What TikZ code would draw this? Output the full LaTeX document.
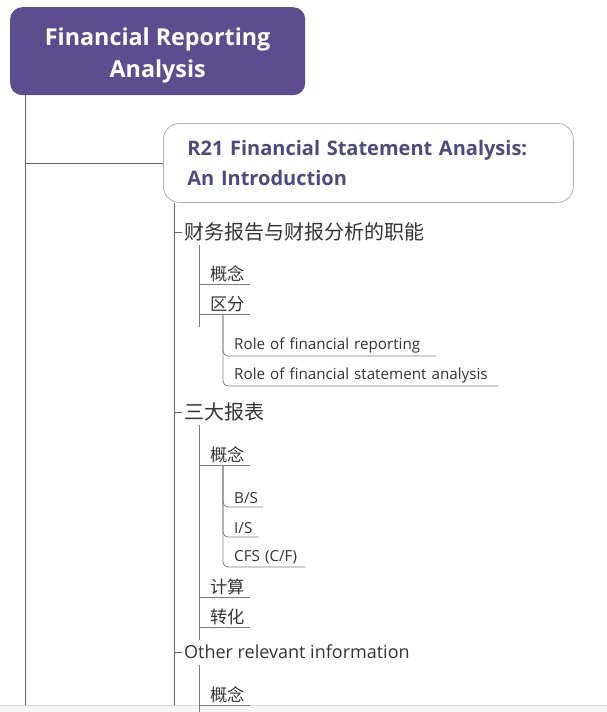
\documentclass[tikz,border=0pt]{standalone}
\usepackage{fontspec}
\setmainfont{Open Sans}
\newfontfamily\cjk{Noto Sans CJK SC}
\definecolor{rootpurple}{HTML}{5B4D8E}
\definecolor{titlepurple}{HTML}{4E4A7E}
\definecolor{txt}{HTML}{333333}
\definecolor{ln}{HTML}{666666}
\tikzset{
 rootbox/.style={fill=rootpurple, rounded corners=12pt, text=white, font=\bfseries\fontsize{23.3}{32}\selectfont, align=center, inner sep=0pt, minimum width=295pt, minimum height=88pt, anchor=north west},
 topicbox/.style={draw=gray!60, line width=0.8pt, fill=white, rounded corners=16pt, text=titlepurple, font=\bfseries\fontsize{20}{30}\selectfont, align=left, text width=362pt, inner xsep=24pt, inner ysep=0pt, minimum height=79pt, anchor=north west},
 lvtwo/.style={text=txt, inner xsep=2pt, inner ysep=2pt, anchor=west, font=\fontsize{18}{22}\selectfont},
 lvthree/.style={text=txt, anchor=south west, inner xsep=0pt, inner ysep=2pt, align=left, text width=51pt, font=\cjk\fontsize{17.3}{20}\selectfont},
 lvfour/.style={text=txt, anchor=south west, inner xsep=0pt, inner ysep=3pt, align=left, font=\fontsize{15.2}{18}\selectfont},
 trunk/.style={draw=ln, line width=0.8pt},
 twig/.style={draw=ln!85, line width=0.8pt},
}
\begin{document}
\begin{tikzpicture}[x=1pt,y=-1pt]
\useasboundingbox (0,0) rectangle (607,712);
\fill[gray!7] (0,705) rectangle (607,712);
\draw[gray!30, line width=0.6pt] (0,705) -- (607,705);
\coordinate (bottom) at (0,705);

\node[rootbox] (root) at (10,7) {\rule{0pt}{26pt}Financial Reporting\\Analysis};
\node[topicbox] (topic) at (163,123) {R21 Financial Statement Analysis:\\An Introduction};

% level 2
\node[lvtwo] (g1) at (182,232) {\cjk\fontsize{20}{22}\selectfont 财务报告与财报分析的职能};
\node[lvtwo] (g2) at (182,412) {\cjk\fontsize{20}{22}\selectfont 三大报表};
\node[lvtwo] (g3) at (182,652) {Other relevant information};

% level 3
\node[lvthree] (g1a) at (199,284) {\hspace*{11pt}概念};
\node[lvthree] (g1b) at (199,314) {\hspace*{11pt}区分};
\node[lvthree] (g2a) at (199,465) {\hspace*{11pt}概念};
\node[lvthree] (g2b) at (199,597) {\hspace*{11pt}计算};
\node[lvthree] (g2c) at (199,627) {\hspace*{11pt}转化};
\node[lvthree] (g3a) at (199,705) {\hspace*{11pt}概念};

% level 4
\node[lvfour, text width=213pt] (g1b1) at (223,356) {\hspace*{11pt}Role of financial reporting};
\node[lvfour, text width=275pt] (g1b2) at (223,386) {\hspace*{11pt}Role of financial statement analysis};
\node[lvfour, text width=40pt] (g2a1) at (223,507) {\hspace*{11pt}B/S};
\node[lvfour, text width=35pt] (g2a2) at (223,537) {\hspace*{11pt}I/S};
\node[lvfour, text width=82pt] (g2a3) at (223,567) {\hspace*{11pt}CFS (C/F)};

% trunk lines
\draw[trunk] ([xshift=15pt]root.south west) -- ([xshift=15pt]root.south west |- bottom);
\draw[trunk] ([xshift=15pt]root.south west |- topic.west) -- (topic.west);
\draw[trunk] ([xshift=11pt]topic.south west) -- ([xshift=11pt]topic.south west |- bottom);
\foreach \g in {g1,g2,g3}
  \draw[trunk] ([xshift=11pt]topic.south west |- \g.west) -- (\g.west);

% level 3 connectors
\draw[twig] ([shift={(17,13)}]g1.west) -- ([shift={(17,13)}]g1.west |- g1b.south west);
\draw[twig] ([shift={(17,13)}]g2.west) -- ([shift={(17,13)}]g2.west |- g2c.south west);
\draw[twig] ([shift={(17,13)}]g3.west) -- ([shift={(17,13)}]g3.west |- g3a.south west);
\foreach \n in {g1a,g1b,g2a,g2b,g2c,g3a}
  \draw[twig] (\n.south west) -- (\n.south east);

% level 4 connectors
\foreach \p/\c in {g1b/g1b1,g1b/g1b2,g2a/g2a1,g2a/g2a2,g2a/g2a3}
  \draw[twig, rounded corners=5pt] ([xshift=24pt]\p.south west) |- (\c.south east);
\end{tikzpicture}
\end{document}
